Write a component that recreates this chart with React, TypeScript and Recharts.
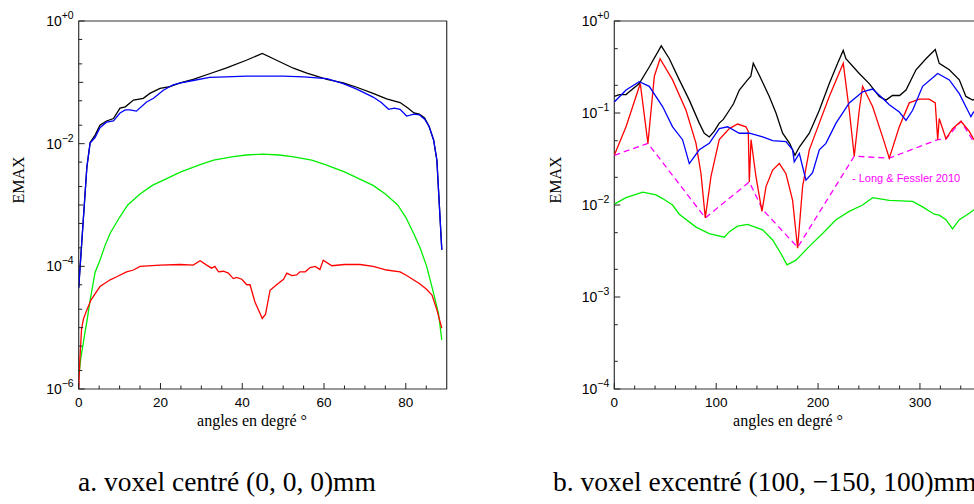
import { LineChart, Line, XAxis, YAxis, ReferenceArea } from "recharts"

const SANS = '"Liberation Sans", Arial, Helvetica, sans-serif'
const SERIF = '"Liberation Serif", "Times New Roman", serif'

const BLACK = "#000000"
const BLUE = "#0000ff"
const RED = "#ff0000"
const GREEN = "#00ee00"
const MAGENTA = "#ff00ff"

// ---- panel a : voxel centré, values as log10(EMAX) ----
const A_BLACK_X = [0, 0.9, 2, 2.8, 4, 5.2, 6.8, 8.5, 10.1, 11.4, 13.4, 15.8, 17.4, 19.9, 22.3, 24.8, 28, 32, 36, 41, 44.9, 48.4, 52.5, 55.8, 60.7, 64.7, 68, 72, 75.3, 78.6, 80.5, 82, 83.3, 84.6, 85.7, 86.8, 87.6, 88.8]
const A_BLACK_E = [-4.35, -3.46, -2.38, -1.98, -1.86, -1.7, -1.63, -1.59, -1.42, -1.4, -1.29, -1.26, -1.18, -1.1, -1.07, -1.01, -0.95, -0.86, -0.77, -0.64, -0.53, -0.64, -0.77, -0.85, -0.95, -1.01, -1.08, -1.18, -1.27, -1.33, -1.42, -1.5, -1.52, -1.58, -1.72, -1.94, -2.27, -3.73]

const A_BLUE_X = [0, 0.9, 2, 2.8, 4, 5.2, 6.8, 8.5, 10.1, 11.4, 12.5, 14.1, 16.6, 18.3, 20.7, 23.1, 25, 28, 32, 36, 41, 45, 50, 55, 60.7, 64.7, 68, 72, 74, 75.8, 77.2, 78.6, 80.2, 82, 83.3, 84.6, 85.7, 86.8, 87.6, 88.8]
const A_BLUE_E = [-4.35, -3.46, -2.38, -1.99, -1.9, -1.74, -1.65, -1.63, -1.5, -1.45, -1.45, -1.47, -1.32, -1.26, -1.13, -1.04, -1.01, -0.97, -0.92, -0.91, -0.9, -0.9, -0.9, -0.91, -0.94, -1.02, -1.11, -1.24, -1.33, -1.44, -1.42, -1.44, -1.55, -1.52, -1.53, -1.6, -1.72, -1.94, -2.27, -3.73]

const A_GREEN_X = [0.1, 0.5, 1, 1.5, 2, 2.8, 4, 5.2, 6.5, 7.7, 10, 12, 15, 18, 21.5, 25, 29.7, 33, 37.8, 41, 45, 49, 52.2, 57, 60.3, 65, 68.5, 72, 75, 78, 80, 81.9, 83.5, 85.1, 86.8, 88, 88.8]
const A_GREEN_E = [-5.75, -5.5, -5.3, -5.09, -4.9, -4.55, -4.1, -3.9, -3.65, -3.46, -3.2, -3.0, -2.82, -2.68, -2.57, -2.46, -2.34, -2.27, -2.21, -2.185, -2.17, -2.185, -2.21, -2.27, -2.34, -2.46, -2.57, -2.68, -2.82, -3.0, -3.2, -3.46, -3.7, -4.0, -4.44, -4.77, -5.2]

const A_RED_X = [0, 0.3, 0.7, 1.2, 2, 3, 4.4, 5.2, 7.7, 9.3, 11.7, 13.4, 15, 19.9, 24.8, 28, 29.7, 31.3, 32.5, 33.3, 34.2, 35.4, 36.6, 37.8, 38.6, 39.9, 41.1, 41.9, 43.1, 44.9, 45.7, 46.8, 48.4, 50.1, 50.9, 52.1, 53.3, 54.1, 55.4, 56.6, 57.8, 59, 59.8, 61.9, 65, 68.8, 72, 75.3, 78.6, 80.2, 83.3, 85, 86.4, 87.6, 88.8]
const A_RED_E = [-6.0, -5.5, -5.02, -4.85, -4.71, -4.55, -4.41, -4.33, -4.22, -4.17, -4.09, -4.06, -4.0, -3.98, -3.97, -3.98, -3.91, -3.98, -4.03, -4.0, -4.09, -4.08, -4.11, -4.2, -4.18, -4.21, -4.3, -4.3, -4.58, -4.85, -4.78, -4.39, -4.3, -4.21, -4.11, -4.15, -4.14, -4.09, -4.09, -4.02, -4.0, -4.05, -3.9, -3.99, -3.97, -3.97, -4.0, -4.06, -4.09, -4.15, -4.28, -4.37, -4.47, -4.71, -5.01]

const A_X_TICKS = [0, 5, 10, 15, 20, 25, 30, 35, 40, 45, 50, 55, 60, 65, 70, 75, 80, 85]
const A_X_LABELS = [0, 20, 40, 60, 80]
const A_Y_TICKS = [1e-6, 2e-6, 5e-6, 1e-5, 2e-5, 5e-5, 1e-4, 2e-4, 5e-4, 1e-3, 2e-3, 5e-3, 1e-2, 2e-2, 5e-2, 1e-1, 2e-1, 5e-1, 1]
const A_Y_LABELS = [-6, -4, -2, 0]

// ---- panel b : voxel excentré ----
const B_BLACK_X = [0, 5, 11.5, 14.7, 24.5, 34.3, 46.1, 54, 63.8, 73.6, 83.4, 88.3, 93.2, 98, 103, 107, 112.9, 117, 122.7, 130.8, 134, 136.4, 142.3, 152.1, 158.7, 165.2, 172.1, 177.3, 181.6, 191.4, 201.2, 211, 219.2, 224.7, 227.3, 240.4, 250.2, 260, 266.6, 273, 280, 286.3, 296.1, 305.9, 315, 318.9, 328.8, 338.6, 345.1, 351.7, 356, 360]
const B_BLACK_E = [-0.82, -0.8, -0.8, -0.77, -0.68, -0.5, -0.27, -0.41, -0.64, -0.86, -1.11, -1.22, -1.26, -1.2, -1.11, -1.07, -0.97, -0.9, -0.75, -0.64, -0.6, -0.46, -0.59, -0.82, -1.0, -1.22, -1.33, -1.46, -1.37, -1.22, -0.97, -0.68, -0.46, -0.32, -0.41, -0.57, -0.68, -0.82, -0.86, -0.81, -0.81, -0.75, -0.53, -0.41, -0.31, -0.46, -0.53, -0.64, -0.82, -0.86, -0.84, -0.8]

const B_BLUE_X = [0, 11.5, 24.5, 34.3, 47.4, 57.2, 67, 73.6, 83.4, 93.2, 103, 111.2, 122.7, 132.6, 145.6, 155.4, 168.5, 175, 176.6, 181.6, 188.1, 194.6, 201.2, 207.7, 217.6, 230.6, 243.7, 253.5, 263.3, 269.9, 279.7, 286.3, 292.8, 302.6, 317.4, 328.8, 338.6, 350, 352, 360]
const B_BLUE_E = [-0.88, -0.75, -0.66, -0.71, -0.93, -1.15, -1.29, -1.55, -1.4, -1.33, -1.17, -1.15, -1.22, -1.22, -1.26, -1.3, -1.31, -1.4, -1.53, -1.44, -1.73, -1.65, -1.4, -1.33, -1.11, -0.89, -0.77, -0.74, -0.84, -0.91, -0.99, -1.08, -0.97, -0.71, -0.57, -0.64, -0.79, -1.04, -1.0, -0.9]

const B_RED_X = [0, 11.5, 25.5, 33, 39.3, 44.9, 57.2, 70.4, 80.2, 85.1, 89.3, 94.9, 103, 112.9, 121, 129.2, 131.5, 132.5, 134.2, 139, 144.9, 148.9, 155.4, 162, 168.5, 175, 179.9, 184.8, 191.4, 201.2, 211, 224.7, 230.6, 235.5, 240.4, 243.7, 253.5, 263.3, 269.9, 279.7, 289.5, 299.3, 309.1, 315, 317.4, 318.9, 325.5, 332, 340.3, 348.4, 352, 360]
const B_RED_E = [-1.46, -1.15, -0.68, -1.33, -0.6, -0.41, -0.64, -0.97, -1.33, -1.66, -2.14, -1.69, -1.29, -1.17, -1.12, -1.15, -1.2, -1.75, -1.29, -1.69, -2.07, -1.8, -1.62, -1.55, -1.66, -1.95, -2.47, -1.8, -1.4, -1.11, -0.82, -0.46, -0.97, -1.47, -0.97, -0.71, -0.93, -1.26, -1.49, -1.15, -0.89, -0.85, -0.85, -0.89, -1.29, -1.06, -1.28, -1.17, -1.09, -1.2, -1.27, -1.4]

const B_GREEN_X = [0, 11.5, 27.8, 40.9, 47.4, 57.2, 63.8, 80.2, 93.2, 108, 112.9, 121, 130.8, 145.6, 155.4, 163.6, 169.5, 178.3, 191.4, 204.4, 217.6, 230.6, 243.7, 253.5, 269.9, 292.8, 302.6, 314, 318.9, 325.5, 332, 338.6, 348.4, 352, 360]
const B_GREEN_E = [-1.99, -1.92, -1.86, -1.89, -1.93, -2.0, -2.1, -2.24, -2.31, -2.35, -2.29, -2.23, -2.21, -2.27, -2.38, -2.53, -2.65, -2.6, -2.45, -2.31, -2.16, -2.07, -2.0, -1.92, -1.95, -1.96, -2.02, -2.1, -2.11, -2.16, -2.26, -2.16, -2.09, -2.06, -2.0]

const B_LF_X = [0, 33, 89.3, 132.5, 145.6, 179.9, 235.5, 269.9, 317.4, 325.5, 340.3, 352]
const B_LF_E = [-1.46, -1.33, -2.14, -1.75, -2.05, -2.46, -1.47, -1.49, -1.29, -1.28, -1.09, -1.3]

const B_X_TICKS = [0, 20, 40, 60, 80, 100, 120, 140, 160, 180, 200, 220, 240, 260, 280, 300, 320, 340]
const B_X_LABELS = [0, 100, 200, 300]
const B_Y_TICKS = [1e-4, 2e-4, 5e-4, 1e-3, 2e-3, 5e-3, 1e-2, 2e-2, 5e-2, 1e-1, 2e-1, 5e-1, 1]
const B_Y_LABELS = [-4, -3, -2, -1, 0]

const pts = (xs: number[], es: number[]) => xs.map((x, i) => ({ x, y: Math.pow(10, es[i]) }))

type Series = { data: { x: number; y: number }[]; color: string; dash?: string }

type PanelProps = {
  left: number
  width: number
  height: number
  margin: { top: number; right: number; bottom: number; left: number }
  xDomain: [number, number]
  xTicks: number[]
  xLabels: number[]
  yDomain: [number, number]
  yTicks: number[]
  yLabels: number[]
  series: Series[]
}

function Panel(p: PanelProps) {
  // axes get 1px of room, margins are reduced by the same amount
  const axisX = p.margin.left
  const axisY = p.height - p.margin.bottom
  const margin = { ...p.margin, left: p.margin.left - 1, bottom: p.margin.bottom - 1 }

  const yTick = (props: any) => {
    const v = props.payload.value as number
    const y = props.y as number
    const e = Math.log10(v)
    const decade = Math.abs(e - Math.round(e)) < 1e-6
    const exp = Math.round(e)
    const labeled = decade && p.yLabels.includes(exp)
    const len = labeled ? 6 : decade ? 4.5 : 3.5
    return (
      <g>
        <line x1={axisX} x2={axisX + len} y1={y} y2={y} stroke="#222" strokeWidth={1} />
        {labeled && (
          <text x={axisX - 5} y={y + 5} textAnchor="end" fontFamily={SANS} fontSize={14} fill="#000">
            10
            <tspan dy={-7} fontSize={10.5}>{exp === 0 ? "+0" : "\u2212" + Math.abs(exp)}</tspan>
          </text>
        )}
      </g>
    )
  }

  const xTick = (props: any) => {
    const v = props.payload.value as number
    const x = props.x as number
    const labeled = p.xLabels.includes(v)
    const len = labeled ? 6 : 3.5
    return (
      <g>
        <line x1={x} x2={x} y1={axisY} y2={axisY - len} stroke="#222" strokeWidth={1} />
        {labeled && (
          <text x={x} y={axisY + 18} textAnchor="middle" fontFamily={SANS} fontSize={13.5} fill="#000">
            {v}
          </text>
        )}
      </g>
    )
  }

  return (
    <div style={{ position: "absolute", left: p.left, top: 0 }}>
      <LineChart width={p.width} height={p.height} margin={margin}>
        <XAxis
          type="number"
          dataKey="x"
          domain={p.xDomain}
          ticks={p.xTicks}
          interval={0}
          height={1}
          axisLine={false}
          tickLine={false}
          tick={xTick}
          allowDataOverflow
        />
        <YAxis
          type="number"
          scale="log"
          domain={p.yDomain}
          ticks={p.yTicks}
          interval={0}
          width={1}
          axisLine={false}
          tickLine={false}
          tick={yTick}
          allowDataOverflow
        />
        <ReferenceArea
          x1={p.xDomain[0]}
          x2={p.xDomain[1]}
          y1={p.yDomain[0]}
          y2={p.yDomain[1]}
          fill="none"
          fillOpacity={0}
          stroke="#333"
          strokeWidth={1.2}
        />
        {p.series.map((s, i) => (
          <Line
            key={i}
            data={s.data}
            dataKey="y"
            type="linear"
            stroke={s.color}
            strokeWidth={1.3}
            strokeDasharray={s.dash}
            dot={false}
            isAnimationActive={false}
          />
        ))}
      </LineChart>
    </div>
  )
}

export default function App() {
  return (
    <div
      style={{
        position: "absolute",
        left: 0,
        top: 0,
        width: 974,
        height: 504,
        overflow: "hidden",
        background: "#fff",
      }}
    >
      <Panel
        left={0}
        width={460}
        height={440}
        margin={{ top: 21, right: 13.3, bottom: 51, left: 78.7 }}
        xDomain={[0, 90]}
        xTicks={A_X_TICKS}
        xLabels={A_X_LABELS}
        yDomain={[1e-6, 1]}
        yTicks={A_Y_TICKS}
        yLabels={A_Y_LABELS}
        series={[
          { data: pts(A_GREEN_X, A_GREEN_E), color: GREEN },
          { data: pts(A_RED_X, A_RED_E), color: RED },
          { data: pts(A_BLACK_X, A_BLACK_E), color: BLACK },
          { data: pts(A_BLUE_X, A_BLUE_E), color: BLUE },
        ]}
      />
      <Panel
        left={530}
        width={460}
        height={440}
        margin={{ top: 21, right: 8.9, bottom: 51, left: 84.3 }}
        xDomain={[0, 360]}
        xTicks={B_X_TICKS}
        xLabels={B_X_LABELS}
        yDomain={[1e-4, 1]}
        yTicks={B_Y_TICKS}
        yLabels={B_Y_LABELS}
        series={[
          { data: pts(B_GREEN_X, B_GREEN_E), color: GREEN },
          { data: pts(B_LF_X, B_LF_E), color: MAGENTA, dash: "6 4" },
          { data: pts(B_RED_X, B_RED_E), color: RED },
          { data: pts(B_BLACK_X, B_BLACK_E), color: BLACK },
          { data: pts(B_BLUE_X, B_BLUE_E), color: BLUE },
        ]}
      />

      {/* axis titles */}
      <div style={{ position: "absolute", left: 19, top: 180, transform: "translate(-50%, -50%) rotate(-90deg)", fontFamily: SERIF, fontSize: 16, whiteSpace: "nowrap" }}>
        EMAX
      </div>
      <div style={{ position: "absolute", left: 556, top: 180, transform: "translate(-50%, -50%) rotate(-90deg)", fontFamily: SERIF, fontSize: 16, whiteSpace: "nowrap" }}>
        EMAX
      </div>
      <div style={{ position: "absolute", left: 252, top: 421, transform: "translate(-50%, -50%)", fontFamily: SERIF, fontSize: 16, whiteSpace: "nowrap" }}>
        angles en degré °
      </div>
      <div style={{ position: "absolute", left: 788, top: 421, transform: "translate(-50%, -50%)", fontFamily: SERIF, fontSize: 16, whiteSpace: "nowrap" }}>
        angles en degré °
      </div>

      {/* series note */}
      <div style={{ position: "absolute", left: 852, top: 178, transform: "translateY(-50%)", fontFamily: SANS, fontSize: 11, color: MAGENTA, whiteSpace: "nowrap" }}>
        - Long &amp; Fessler 2010
      </div>

      {/* captions */}
      <div style={{ position: "absolute", left: 78, top: 467, fontFamily: SERIF, fontSize: 27.5, whiteSpace: "nowrap", lineHeight: "30px" }}>
        a. voxel centré (0, 0, 0)mm
      </div>
      <div style={{ position: "absolute", left: 553, top: 467, fontFamily: SERIF, fontSize: 27.5, whiteSpace: "nowrap", lineHeight: "30px" }}>
        b. voxel excentré (100, −150, 100)mm
      </div>
    </div>
  )
}
